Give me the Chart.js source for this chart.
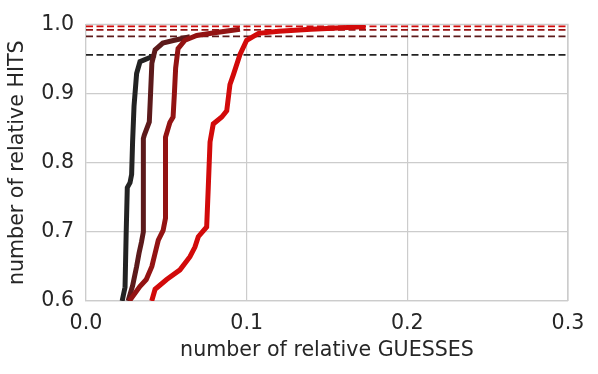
<!DOCTYPE html>
<html>
<head>
<meta charset="utf-8">
<script src="https://cdn.jsdelivr.net/npm/chart.js@4.4.0/dist/chart.umd.min.js"></script>
<style>
  html, body { margin: 0; padding: 0; background: #fff; }
  #wrap { width: 598px; height: 374px; }
</style>
</head>
<body>
<div id="wrap"><canvas id="chart"></canvas></div>
<script>
// curves (relative guesses -> relative hits)
const blackX = [0.0225, 0.0243, 0.0250, 0.0257, 0.0274, 0.0284, 0.0290, 0.0299, 0.0315, 0.0336, 0.0409, 0.0430];
const blackY = [0.600, 0.620, 0.698, 0.764, 0.771, 0.783, 0.830, 0.882, 0.929, 0.946, 0.953, 0.956];

const maroonX = [0.0262, 0.0290, 0.0315, 0.0330, 0.0345, 0.0357, 0.0357, 0.0363, 0.0394, 0.0400, 0.0410, 0.0430, 0.0478, 0.0550, 0.0647];
const maroonY = [0.600, 0.622, 0.650, 0.669, 0.685, 0.700, 0.835, 0.840, 0.859, 0.890, 0.944, 0.963, 0.973, 0.977, 0.982];

const darkRedX = [0.0270, 0.0335, 0.0375, 0.0410, 0.0430, 0.0450, 0.0480, 0.0495, 0.0495, 0.0522, 0.0542, 0.0550, 0.0558, 0.0573, 0.0616, 0.0689, 0.0800, 0.0958];
const darkRedY = [0.600, 0.621, 0.631, 0.650, 0.669, 0.688, 0.702, 0.720, 0.837, 0.858, 0.866, 0.899, 0.937, 0.965, 0.977, 0.984, 0.988, 0.993];

const redX = [0.0409, 0.0430, 0.0502, 0.0585, 0.0647, 0.0678, 0.0699, 0.0751, 0.0761, 0.0772, 0.0792, 0.0845, 0.0876, 0.0896, 0.0917, 0.0958, 0.1000, 0.1074, 0.1200, 0.1400, 0.1600, 0.1740];
const redY = [0.600, 0.617, 0.631, 0.645, 0.664, 0.678, 0.693, 0.707, 0.764, 0.830, 0.856, 0.866, 0.875, 0.913, 0.927, 0.956, 0.977, 0.987, 0.990, 0.993, 0.995, 0.997];

// horizontal reference levels (dashed)
const refLevels = [0.956, 0.9825, 0.992, 0.997];

const xTicks = [0.0, 0.1, 0.2, 0.3];
const yTicks = [0.6, 0.7, 0.8, 0.9, 1.0];

const colors = ['#232323', '#5c1a1b', '#931313', '#d20a0a'];
const curvesX = [blackX, maroonX, darkRedX, redX];
const curvesY = [blackY, maroonY, darkRedY, redY];

const textColor = '#262626';
const gridColor = '#cccccc';
const font = { family: 'DejaVu Sans', size: 20.6 };

const datasets = [];
curvesX.forEach((xs, i) => {
    datasets.push({
        data: xs.map((x, j) => ({ x: x, y: curvesY[i][j] })),
        borderColor: colors[i],
        borderWidth: 5,
        pointRadius: 0,
        tension: 0,
        fill: false,
        clip: 0,
        order: 10 - i * 2
    });
    datasets.push({
        data: [{ x: xTicks[0], y: refLevels[i] }, { x: xTicks[xTicks.length - 1], y: refLevels[i] }],
        borderColor: colors[i],
        borderWidth: 1.8,
        borderDash: [7, 3.5],
        pointRadius: 0,
        fill: false,
        clip: 0,
        order: 11 - i * 2
    });
});

new Chart(document.getElementById('chart'), {
    type: 'scatter',
    data: { datasets },
    options: {
        responsive: true,
        maintainAspectRatio: false,
        animation: false,
        showLine: true,
        layout: { padding: { left: 0, top: 20, right: 30, bottom: 0 } },
        plugins: { legend: { display: false }, tooltip: { enabled: false } },
        scales: {
            x: {
                type: 'linear',
                min: 0, max: 0.3,
                afterBuildTicks: (s) => { s.ticks = xTicks.map(v => ({ value: v })); },
                afterFit: (s) => { s.height = 73; },
                grid: { color: gridColor, lineWidth: 1.2, drawTicks: false },
                border: { color: gridColor, width: 1.2 },
                ticks: { color: textColor, font, padding: 10, callback: (v) => v.toFixed(1) },
                title: { display: true, text: 'number of relative GUESSES', color: textColor, font, padding: { top: 0, bottom: 11 } }
            },
            y: {
                type: 'linear',
                min: 0.6, max: 1.0,
                afterBuildTicks: (s) => { s.ticks = yTicks.map(v => ({ value: v })); },
                afterFit: (s) => { s.width = 86; },
                grid: { color: gridColor, lineWidth: 1.2, drawTicks: false },
                border: { color: gridColor, width: 1.2 },
                ticks: { color: textColor, font, padding: 12, callback: (v) => v.toFixed(1) },
                title: { display: true, text: 'number of relative HITS', color: textColor, font, padding: { top: 5, bottom: 0 } }
            }
        }
    },
    plugins: [{
        id: 'rightTopBorder',
        afterDraw(chart) {
            const { ctx, chartArea: a } = chart;
            ctx.save();
            ctx.strokeStyle = gridColor;
            ctx.lineWidth = 1.2;
            ctx.beginPath();
            ctx.moveTo(a.left, a.top);
            ctx.lineTo(a.right, a.top);
            ctx.lineTo(a.right, a.bottom);
            ctx.stroke();
            ctx.restore();
        }
    }]
});
</script>
</body>
</html>
